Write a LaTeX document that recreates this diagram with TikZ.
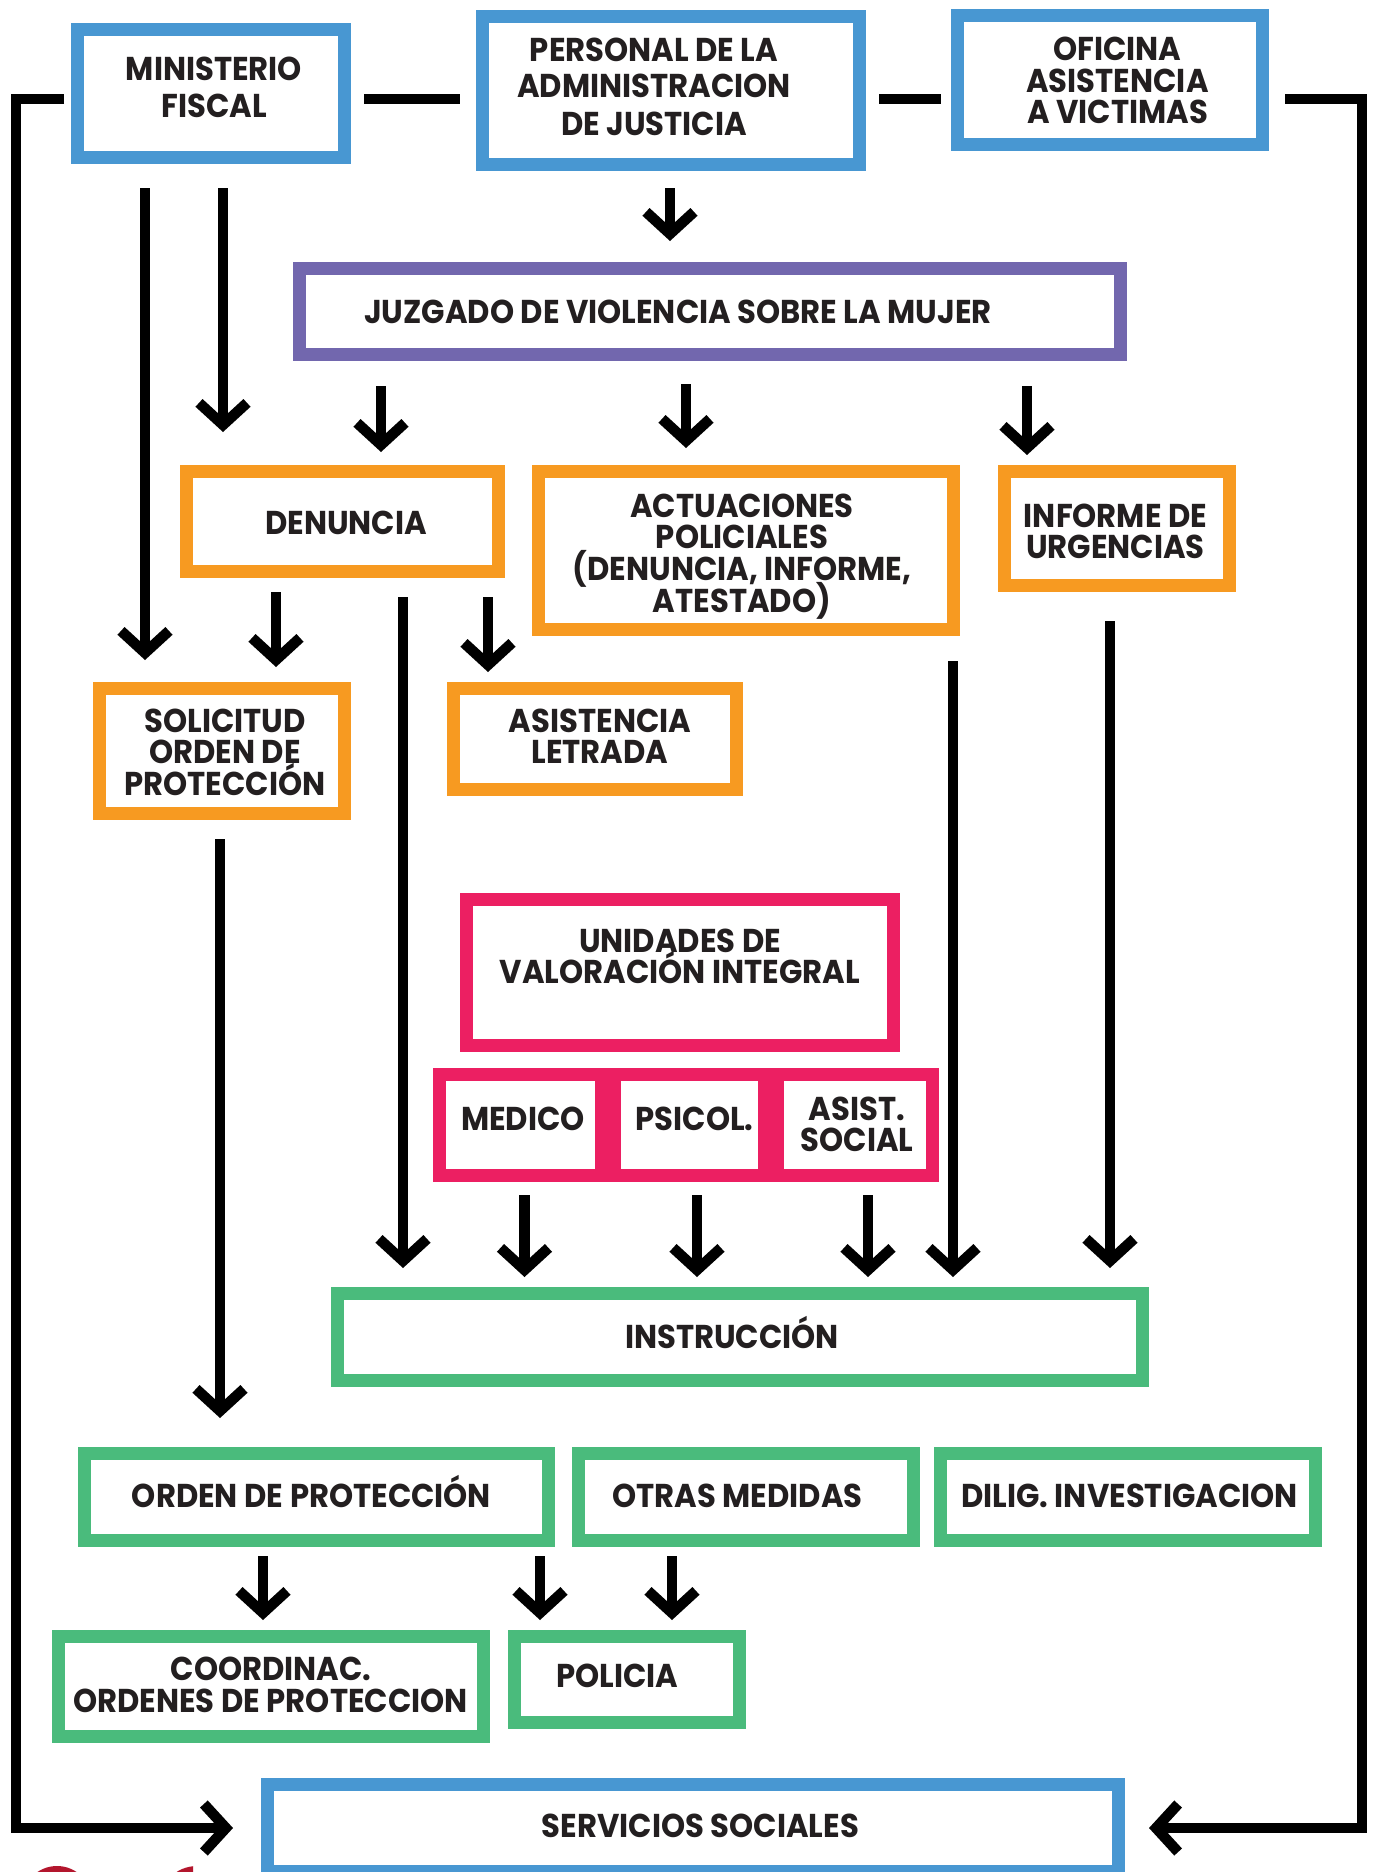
\documentclass[tikz,border=0pt]{standalone}
\usepackage{fontspec}
\setmainfont{Poppins}[FakeStretch=0.93]
\usetikzlibrary{arrows.meta}
\definecolor{cblue}{HTML}{4897D2}
\definecolor{cpurple}{HTML}{7267AE}
\definecolor{corange}{HTML}{F79A21}
\definecolor{cpink}{HTML}{EC1F62}
\definecolor{cgreen}{HTML}{4ABB7C}
\definecolor{ctext}{HTML}{231F20}
\definecolor{clogo}{HTML}{B3162D}
\tikzset{
  bx/.style={draw=#1, line width=13pt, fill=white, inner sep=0pt, outer sep=6.5pt},
  tx/.style={anchor=base, text=ctext, inner sep=0pt, font=\bfseries\fontsize{33}{36}\selectfont},
  ln/.style={line width=10.5pt, draw=black, line join=miter},
  arr/.style={ln, -{Straight Barb[length=22pt,width=48pt]}},
}
\begin{document}
\begin{tikzpicture}[x=1pt,y=-1pt]
\useasboundingbox (0,0) rectangle (1373,1872);
\clip (0,0) rectangle (1373,1872);
\fill[white] (0,0) rectangle (1373,1872);

% logo fragments
\fill[clogo] (57,1901) circle (35pt);
\begin{scope}
  \clip (150,1850) rectangle (193,1880);
  \fill[clogo] (197,1904) circle (38pt);
\end{scope}

% boxes
\node[bx=cblue, minimum width=267pt, minimum height=128pt] (min) at (211,93.5) {};
\node[bx=cblue, minimum width=377pt, minimum height=148pt] (pers) at (671,90.5) {};
\node[bx=cblue, minimum width=305pt, minimum height=129pt] (ofi) at (1110,80) {};
\node[bx=cpurple, minimum width=821pt, minimum height=86pt] (juz) at (710,311.5) {};
\node[bx=corange, minimum width=312pt, minimum height=100pt] (den) at (342.5,521.5) {};
\node[bx=corange, minimum width=415.5pt, minimum height=158pt] (act) at (746,550.5) {};
\node[bx=corange, minimum width=225pt, minimum height=114pt] (inf) at (1117,528.5) {};
\node[bx=corange, minimum width=245pt, minimum height=125pt] (sol) at (222,751) {};
\node[bx=corange, minimum width=283pt, minimum height=101pt] (asi) at (595,739) {};
\node[bx=cpink, minimum width=427pt, minimum height=146pt] (uni) at (680,972.5) {};
\node[bx=cpink, minimum width=162pt, minimum height=101pt] (med) at (520.5,1125) {};
\node[bx=cpink, minimum width=150pt, minimum height=101pt] (psi) at (689.5,1125) {};
\node[bx=cpink, minimum width=155pt, minimum height=101pt] (ass) at (855,1125) {};
\node[bx=cgreen, minimum width=805pt, minimum height=87pt] (ins) at (740,1337) {};
\node[bx=cgreen, minimum width=464pt, minimum height=87pt] (ord) at (316.5,1497) {};
\node[bx=cgreen, minimum width=335pt, minimum height=87pt] (otr) at (746,1497) {};
\node[bx=cgreen, minimum width=375pt, minimum height=87pt] (dil) at (1128,1497) {};
\node[bx=cgreen, minimum width=424.5pt, minimum height=100pt] (coo) at (271,1686.5) {};
\node[bx=cgreen, minimum width=225pt, minimum height=86pt] (pol) at (627,1679.5) {};
\node[bx=cblue, minimum width=851pt, minimum height=87pt] (ser) at (693,1828) {};

% texts
\node[tx] (minA) at (214,80) {MINISTERIO};
\node[tx] (minB) at (214,117) {FISCAL};
\node[tx] (persA) at (654,61) {PERSONAL DE LA};
\node[tx] (persB) at (654,97) {ADMINISTRACION};
\node[tx] (persC) at (654,135) {DE JUSTICIA};
\node[tx] (ofiA) at (1117.5,60) {OFICINA};
\node[tx] (ofiB) at (1117.5,92) {ASISTENCIA};
\node[tx] (ofiC) at (1117.5,123) {A VICTIMAS};
\node[tx] (juzA) at (678,323) {JUZGADO DE VIOLENCIA SOBRE LA MUJER};
\node[tx] (denA) at (346,534) {DENUNCIA};
\node[tx] (actA) at (742,517) {ACTUACIONES};
\node[tx] (actB) at (742,548) {POLICIALES};
\node[tx] (actC) at (742,580) {(DENUNCIA, INFORME,};
\node[tx] (actD) at (742,612) {ATESTADO)};
\node[tx] (infA) at (1115.5,527) {INFORME DE};
\node[tx] (infB) at (1115.5,558) {URGENCIAS};
\node[tx] (solA) at (225,732) {SOLICITUD};
\node[tx] (solB) at (225,763) {ORDEN DE};
\node[tx] (solC) at (225,795) {PROTECCIÓN};
\node[tx] (asiA) at (600,732) {ASISTENCIA};
\node[tx] (asiB) at (600,763) {LETRADA};
\node[tx] (uniA) at (680,952) {UNIDADES DE};
\node[tx] (uniB) at (680,983) {VALORACIÓN INTEGRAL};
\node[tx] (medA) at (523,1130) {MEDICO};
\node[tx] (psiA) at (694.5,1130) {PSICOL.};
\node[tx] (assA) at (857,1120) {ASIST.};
\node[tx] (assB) at (857,1151) {SOCIAL};
\node[tx] (insA) at (732,1348) {INSTRUCCIÓN};
\node[tx] (ordA) at (311.5,1507) {ORDEN DE PROTECCIÓN};
\node[tx] (otrA) at (737.5,1507) {OTRAS MEDIDAS};
\node[tx] (dilA) at (1129.5,1507) {DILIG. INVESTIGACION};
\node[tx] (cooA) at (271,1680) {COORDINAC.};
\node[tx] (cooB) at (270.5,1712) {ORDENES DE PROTECCION};
\node[tx] (polA) at (617.5,1687) {POLICIA};
\node[tx] (serA) at (700.5,1837) {SERVICIOS SOCIALES};

% helper coordinates
\coordinate (yl) at (0,99);
\coordinate (lc) at (16,1828);
\coordinate (rc) at (1362,1828);
\coordinate (x670) at (670,0);
\coordinate (x223) at (223,0);
\coordinate (x145) at (145,0);
\coordinate (x381) at (381,0);
\coordinate (x686) at (686,0);
\coordinate (x1027) at (1027,0);
\coordinate (x276) at (276,0);
\coordinate (x488) at (488,0);
\coordinate (x403) at (403,0);
\coordinate (x953) at (953,0);
\coordinate (x1110) at (1110,0);
\coordinate (x525) at (524.5,0);
\coordinate (x697) at (697,0);
\coordinate (x868) at (868,0);
\coordinate (x220) at (220,0);
\coordinate (x263) at (263,0);
\coordinate (x540) at (540,0);
\coordinate (x672) at (672,0);

% top links
\draw[ln, shorten <=13pt, shorten >=16pt] (min.east |- yl) -- (pers.west |- yl);
\draw[ln, shorten <=13pt, shorten >=10pt] (pers.east |- yl) -- (ofi.west |- yl);
\draw[arr, shorten <=7pt, shorten >=28pt] (min.west |- yl) -| (lc) -- (ser.west);
\draw[arr, shorten <=16pt, shorten >=24pt] (ofi.east |- yl) -| (rc) -- (ser.east);

% arrows
\draw[arr, shorten <=17pt, shorten >=21pt] (pers.south -| x670) -- (juz.north -| x670);
\draw[arr, shorten <=24pt, shorten >=33pt] (min.south -| x223) -- (den.north -| x223);
\draw[arr, shorten <=24pt, shorten >=22pt] (min.south -| x145) -- (sol.north -| x145);
\draw[arr, shorten <=25pt, shorten >=13pt] (juz.south -| x381) -- (den.north -| x381);
\draw[arr, shorten <=23pt, shorten >=17pt] (juz.south -| x686) -- (act.north -| x686);
\draw[arr, shorten <=25pt, shorten >=10pt] (juz.south -| x1027) -- (inf.north -| x1027);
\draw[arr, shorten <=14pt, shorten >=15pt] (den.south -| x276) -- (sol.north -| x276);
\draw[arr, shorten <=19pt, shorten >=10pt] (den.south -| x488) -- (asi.north -| x488);
\draw[arr, shorten <=19pt, shorten >=19pt] (den.south -| x403) -- (ins.north -| x403);
\draw[arr, shorten <=25pt, shorten >=10pt] (act.south -| x953) -- (ins.north -| x953);
\draw[arr, shorten <=29pt, shorten >=19pt] (inf.south -| x1110) -- (ins.north -| x1110);
\draw[arr, shorten <=13pt, shorten >=10pt] (med.south -| x525) -- (ins.north -| x525);
\draw[arr, shorten <=13pt, shorten >=10pt] (psi.south -| x697) -- (ins.north -| x697);
\draw[arr, shorten <=13pt, shorten >=10pt] (ass.south -| x868) -- (ins.north -| x868);
\draw[arr, shorten <=19pt, shorten >=29pt] (sol.south -| x220) -- (ord.north -| x220);
\draw[arr, shorten <=9pt, shorten >=10pt] (ord.south -| x263) -- (coo.north -| x263);
\draw[arr, shorten <=9pt, shorten >=10pt] (ord.south -| x540) -- (pol.north -| x540);
\draw[arr, shorten <=9pt, shorten >=10pt] (otr.south -| x672) -- (pol.north -| x672);
\end{tikzpicture}
\end{document}
